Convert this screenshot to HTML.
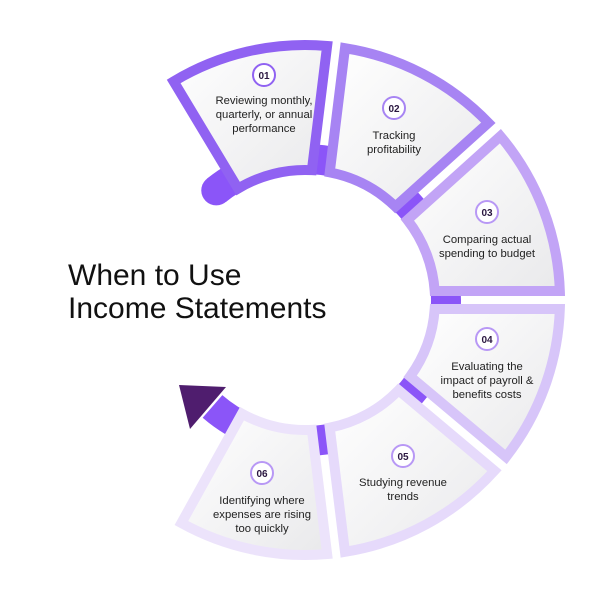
<!DOCTYPE html>
<html><head><meta charset="utf-8"><style>
html,body{margin:0;padding:0;background:#fff;}
svg{display:block;}
text{font-family:"Liberation Sans",sans-serif;}
</style></head><body>
<svg id="s" width="600" height="600" viewBox="0 0 600 600" xmlns="http://www.w3.org/2000/svg">
<defs>
<linearGradient id="g" x1="0" y1="0" x2="1" y2="1">
<stop offset="0" stop-color="#ffffff"/><stop offset="1" stop-color="#e9e9eb"/>
</linearGradient>
</defs>
<g id="arc"></g>
<g id="segs"></g>
<polygon points="179,385 226,387 190,429" fill="#4f1d6e"/>
<text x="68" y="285" font-size="30" fill="#111">When to Use</text>
<text x="68" y="318" font-size="30" fill="#111">Income Statements</text>
<g id="labels" font-size="11.3" fill="#222" text-anchor="middle"></g>
</svg>
<script>
var cx=305,cy=300,NS="http://www.w3.org/2000/svg";
function P(r,a){a=a*Math.PI/180;return [cx+r*Math.cos(a),cy+r*Math.sin(a)];}
function el(t,at,par){var e=document.createElementNS(NS,t);for(var k in at)e.setAttribute(k,at[k]);document.getElementById(par).appendChild(e);return e;}
var a0=-129,a1=131,r=141;var p0=P(r,a0),p1=P(r,a1);
el("path",{d:"M"+p0+" A"+r+","+r+" 0 1 1 "+p1,fill:"none",stroke:"#8b55f8","stroke-width":30,"stroke-linecap":"butt"},"arc");
el("circle",{cx:p0[0],cy:p0[1],r:15,fill:"#8b55f8"},"arc");
var B=[-121,-83,-42,0,40,83,119];
var cols=["#9062f2","#a784f3","#c2a4f6","#d7c5f9","#e6dafb","#ece3fb"];
var R=255,ri=130,d=9;
function off(rho){return Math.asin(d/rho)*180/Math.PI;}
for(var i=0;i<6;i++){
 var s=B[i],e=B[i+1];
 var so=(i==0)?0:1, eo=(i==5)?0:1;
 var a=P(R,s+so*off(R)),b=P(R,e-eo*off(R)),c=P(ri,e-eo*off(ri)),dd=P(ri,s+so*off(ri));
 el("path",{d:"M"+a+" A"+R+","+R+" 0 0 1 "+b+" L"+c+" A"+ri+","+ri+" 0 0 0 "+dd+" Z",fill:"url(#g)",stroke:cols[i],"stroke-width":10,"stroke-linejoin":"miter"},"segs");
}
var L=[["01",264,75,[104,118,132],["Reviewing monthly,","quarterly, or annual","performance"],"#9062f2"],
["02",394,108,[139,153],["Tracking","profitability"],"#a784f3"],
["03",487,212,[243,257],["Comparing actual","spending to budget"],"#b898f5"],
["04",487,339,[370,384,398],["Evaluating the","impact of payroll &","benefits costs"],"#b898f5"],
["05",403,456,[486,500],["Studying revenue","trends"],"#b898f5"],
["06",262,473,[504,518,532],["Identifying where","expenses are rising","too quickly"],"#b898f5"]];
L.forEach(function(l){
 el("circle",{cx:l[1],cy:l[2],r:11,fill:"#fff",stroke:l[5],"stroke-width":2},"labels");
 var t=el("text",{x:l[1],y:l[2]+4,"font-size":10,"font-weight":"bold",fill:"#2a1740"},"labels");t.textContent=l[0];
 l[4].forEach(function(s,i){var u=el("text",{x:l[1],y:l[3][i]},"labels");u.textContent=s;});
});
</script>
</body></html>
